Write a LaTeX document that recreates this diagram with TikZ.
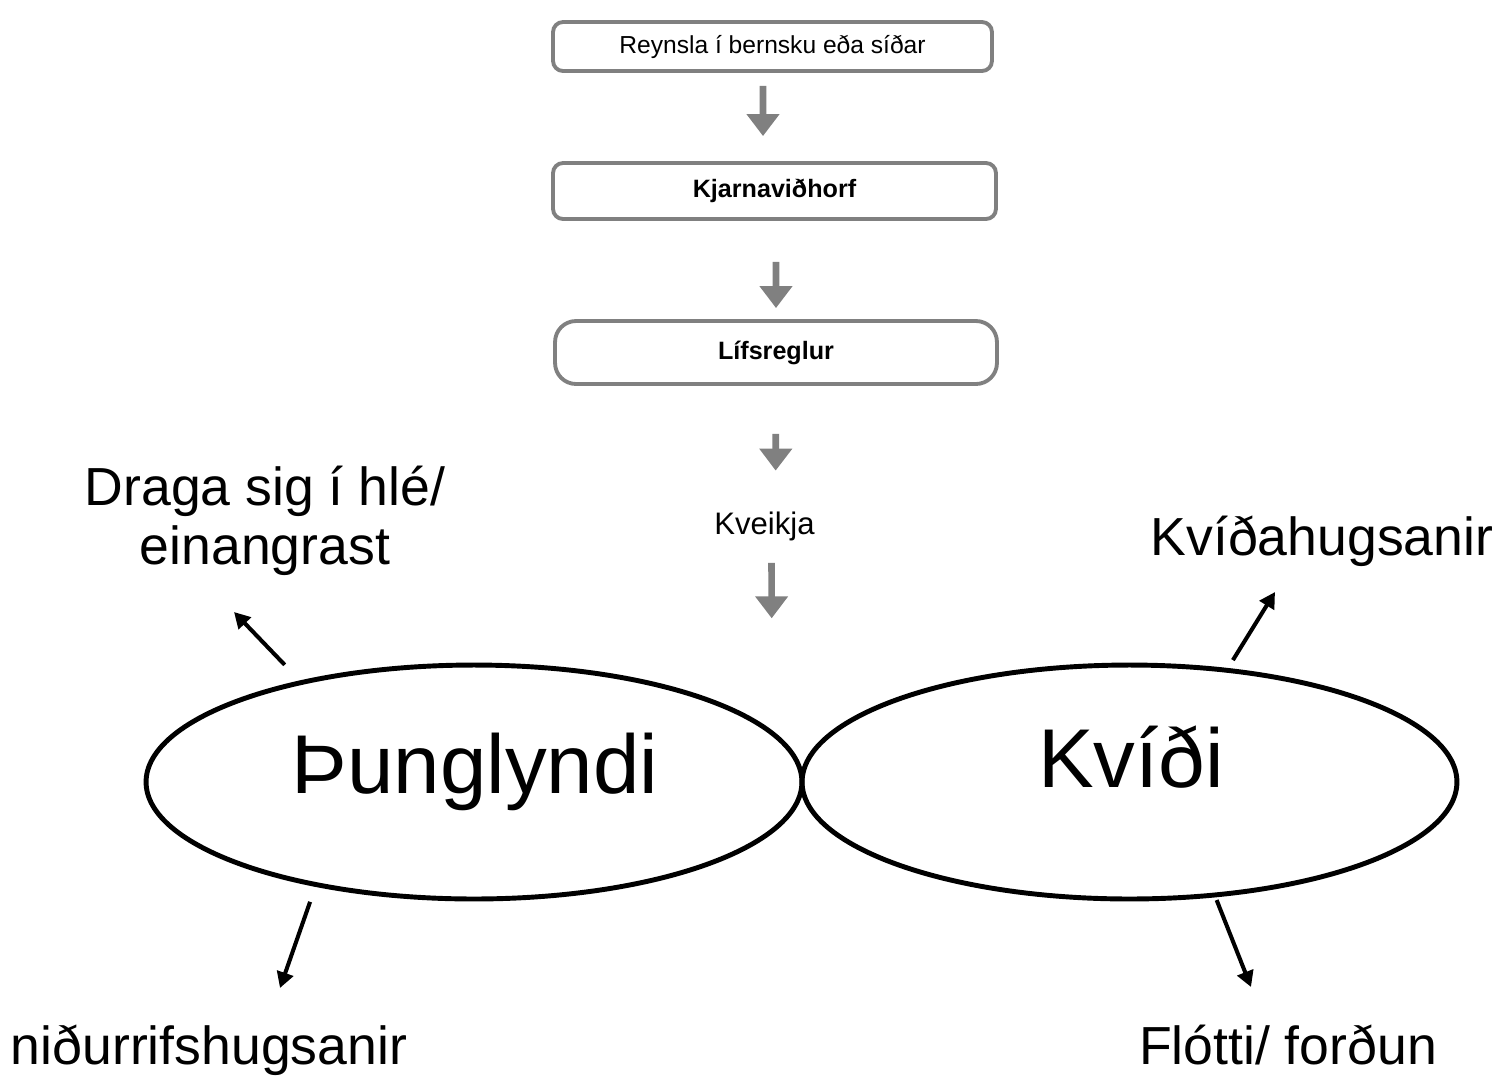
\documentclass[tikz,border=0pt]{standalone}
\usepackage{fontspec}
\setmainfont{Liberation Sans}
\usepackage{tikz}
\usetikzlibrary{arrows.meta,shapes.geometric}
\definecolor{boxgray}{RGB}{128,128,128}

\begin{document}
\begin{tikzpicture}[x=0.02cm,y=-0.02cm, % 1 px = 0.02 cm
    box/.style={draw=boxgray,line width=2.2pt,rounded corners=0.2cm,inner sep=0pt,font=\fontsize{14}{16}\selectfont},
    grayarrow/.style={draw=boxgray,line width=3.8pt,-{Triangle[width=18pt,length=12.5pt]}},
    outarrow/.style={line width=2.3pt,-{Triangle[width=9.5pt,length=9pt]}},
    ell/.style={draw,ellipse,line width=2.8pt,inner sep=0pt,outer sep=0pt,minimum height=4.68cm},
    bigtxt/.style={font=\fontsize{30.5}{33.5}\selectfont,inner sep=0pt},
    hugetxt/.style={font=\fontsize{47.5}{52}\selectfont,inner sep=0pt}]
\useasboundingbox (0,0) rectangle (1501,1076);
% kassar efst
\node[box,minimum width=8.78cm,minimum height=0.98cm](B1) at (772.5,46.5) {Reynsla í bernsku eða síðar};
\node[box,minimum width=8.86cm,minimum height=1.12cm,font=\fontsize{14.3}{16}\selectfont\bfseries](B2) at (774.5,191) {Kjarnaviðhorf};
\node[box,minimum width=8.84cm,minimum height=1.26cm,rounded corners=0.42cm,font=\fontsize{14.3}{16}\selectfont\bfseries](B3) at (776,352.5) {Lífsreglur};
\node[font=\fontsize{17.7}{20}\selectfont,inner sep=0pt,anchor=base](Kv) at (764.5,534) {Kveikja};
\coordinate(C0) at (771.7,618.3);
\draw[grayarrow,shorten <=0.26cm,shorten >=0.5cm] ([xshift=-0.19cm]B1.south) -- ([xshift=-0.23cm]B2.north);
\draw[grayarrow,shorten <=0.82cm,shorten >=0.22cm] ([xshift=0.03cm]B2.south) -- (B3.north);
\draw[grayarrow,shorten <=0.96cm,shorten >=0.81cm] (B3.south) -- ([xshift=0.22cm]Kv.north);
\draw[grayarrow,shorten <=0.44cm] ([xshift=0.14cm]Kv.south) -- (C0);
% sporbaugar
\node[ell,minimum width=13.12cm](P) at (474,782) {};
\node[ell,minimum width=13.1cm](Q) at (1129.5,782) {};
\node[hugetxt,anchor=base](Pt) at ([yshift=-0.22cm,xshift=0.02cm]P.center) {Þunglyndi};
\node[hugetxt,anchor=base](Qt) at ([yshift=-0.1cm,xshift=0.03cm]Q.center) {Kvíði};
% texti og örvar út
\node[bigtxt,align=center](L1) at (265,521) {Draga sig í hlé/\\einangrast};
\node[bigtxt,anchor=base](L2) at (1322,555.5) {Kvíðahugsanir};
\node[bigtxt,anchor=base](L3) at (209,1064) {niðurrifshugsanir};
\node[bigtxt,anchor=base](L4) at (1288,1064) {Flótti/ forðun};
\coordinate(C1) at (234,612);\coordinate(C2) at (280,988);
\coordinate(C3) at (1275,592);\coordinate(C4) at (1251,987);
\draw[outarrow,shorten <=0.49cm] (P.150.7) -- (C1);
\draw[outarrow,shorten <=0.366cm] (P.213.25) -- (C2);
\draw[outarrow,shorten <=0.24cm] (Q.49.3) -- (C3);
\draw[outarrow,shorten <=0.11cm] (Q.-53.2) -- (C4);
\end{tikzpicture}
\end{document}
